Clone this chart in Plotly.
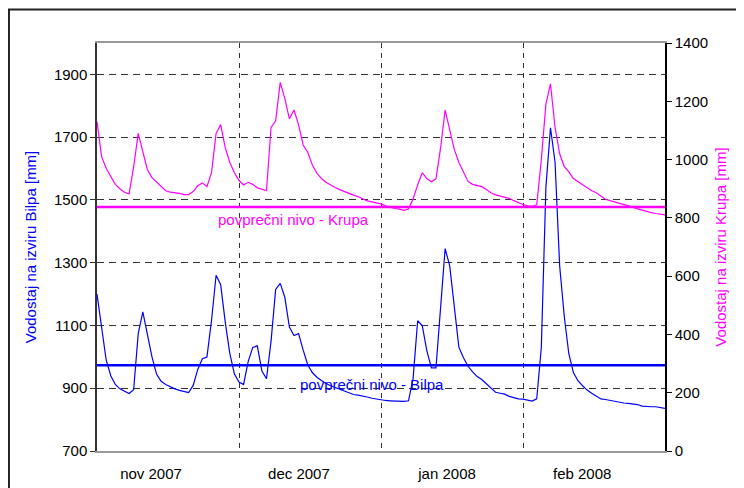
import pandas as pd
import plotly.graph_objects as go

# ---- data (daily, from 2007-10-31) ----
START_DATE = "2007-10-31"
END_DATE = "2008-03-03"

bilpa = [
    1200, 1098, 990, 940, 912, 898, 890, 883, 895, 1074,
    1143, 1070, 1000, 945, 922, 912, 904, 898, 893, 889,
    886, 909, 960, 994, 999, 1116, 1260, 1230, 1110, 1010,
    945, 920, 912, 985, 1030, 1035, 955, 930, 1050, 1215,
    1234, 1190, 1095, 1068, 1074, 1022, 975, 950, 935, 925,
    915, 908, 902, 898, 892, 884, 880, 878, 876, 872,
    868, 865, 863, 861, 860, 859, 858, 858, 860, 930,
    1115, 1100, 1020, 965, 965, 1160, 1345, 1290, 1150, 1031,
    997, 970, 952, 937, 928, 914, 900, 887, 884, 881,
    874, 869, 866, 865, 863, 859, 866, 1030, 1540, 1730,
    1620, 1290, 1130, 1010, 950, 924, 908, 894, 884, 874,
    866, 864, 861, 857, 855, 853, 852, 851, 848, 843,
    841, 841, 841, 838, 836,
]

krupa = [
    1130, 1010, 970, 940, 915, 900, 888, 882, 975, 1090,
    1030, 965, 938, 922, 908, 893, 888, 887, 884, 880,
    880, 890, 910, 920, 907, 955, 1090, 1120, 1040, 990,
    955, 928, 913, 922, 915, 903, 899, 894, 1110, 1133,
    1265, 1210, 1140, 1170, 1120, 1050, 1025, 982, 953, 935,
    922, 912, 904, 897, 890, 883, 878, 873, 866, 858,
    855, 851, 848, 841, 836, 832, 830, 826, 830, 865,
    913, 955, 935, 924, 934, 1039, 1170, 1100, 1035, 990,
    955, 925, 915, 911, 907, 897, 886, 879, 875, 871,
    867, 859, 852, 846, 841, 840, 845, 1000, 1190, 1260,
    1110, 1020, 976, 958, 935, 924, 913, 903, 893, 886,
    876, 864, 859, 855, 851, 847, 842, 837, 831, 826,
    822, 818, 815, 812, 810,
]

BILPA_MEAN = 973
KRUPA_MEAN = 837

month_tick_vals = ["2007-11-11T19:00", "2007-12-14T02:00", "2008-01-15T10:00", "2008-02-13T22:00"]
month_tick_text = ["nov 2007", "dec 2007", "jan 2008", "feb 2008"]
month_bounds = ["2007-12-01", "2008-01-01", "2008-02-01"]

dates = pd.date_range(START_DATE, periods=len(bilpa), freq="D")

BLUE = "#0000FF"
MAGENTA = "#FF00FF"
FONT = "Liberation Sans, Arial, sans-serif"

fig = go.Figure()

fig.add_trace(go.Scatter(x=[START_DATE, END_DATE], y=[BILPA_MEAN, BILPA_MEAN],
                         mode="lines", line=dict(color=BLUE, width=2.5),
                         yaxis="y", hoverinfo="skip"))
fig.add_trace(go.Scatter(x=[START_DATE, END_DATE], y=[KRUPA_MEAN, KRUPA_MEAN],
                         mode="lines", line=dict(color=MAGENTA, width=2.5),
                         yaxis="y2", hoverinfo="skip"))
fig.add_trace(go.Scatter(x=dates, y=bilpa, mode="lines",
                         line=dict(color=BLUE, width=1.2), yaxis="y",
                         name="Bilpa"))
fig.add_trace(go.Scatter(x=dates, y=krupa, mode="lines",
                         line=dict(color=MAGENTA, width=1.2), yaxis="y2",
                         name="Krupa"))

fig.add_annotation(x="2007-12-13T00:00", y=793, yref="y2", xref="x",
                   text="povprečni nivo - Krupa", showarrow=False,
                   font=dict(color=MAGENTA, size=15, family=FONT))
fig.add_annotation(x="2007-12-30T00:00", y=912, yref="y", xref="x",
                   text="povprečni nivo - Bilpa", showarrow=False,
                   font=dict(color=BLUE, size=15, family=FONT))

# outer frame
fig.add_shape(type="rect", xref="paper", yref="paper",
              x0=-0.155, x1=1.2, y0=-0.2, y1=1.082,
              line=dict(color="#222", width=2), layer="below")

fig.update_layout(
    width=736, height=480,
    margin=dict(l=89, r=79, t=35, b=37, autoexpand=False),
    paper_bgcolor="white", plot_bgcolor="white",
    showlegend=False,
    font=dict(family=FONT, size=15, color="black"),
    xaxis=dict(
        type="date", automargin=False,
        range=[START_DATE, END_DATE],
        tickmode="array", tickvals=month_tick_vals, ticktext=month_tick_text,
        ticks="", showgrid=False, ticklabelstandoff=8,
        showline=True, linecolor="#999", linewidth=1.5, mirror=True,
        zeroline=False,
        minor=dict(tickmode="array", tickvals=month_bounds, showgrid=True,
                   gridcolor="#333", griddash="5px,5px", gridwidth=1, ticks=""),
    ),
    yaxis=dict(
        automargin=False,
        range=[700, 2000], tick0=700, dtick=200, tickmode="linear",
        showgrid=True, gridcolor="#333", griddash="7px,5px", gridwidth=1,
        showline=True, linecolor="#333", linewidth=1.5,
        ticks="outside", ticklen=5, tickcolor="#333",
        zeroline=False,
        title=dict(text="Vodostaj na izviru Bilpa [mm]", font=dict(color=BLUE, size=15),
                   standoff=14),
    ),
    yaxis2=dict(
        automargin=False,
        range=[0, 1400], tick0=0, dtick=200, tickmode="linear",
        overlaying="y", side="right", showgrid=False,
        showline=True, linecolor="black", linewidth=1.5,
        ticks="outside", ticklen=5, tickcolor="black",
        zeroline=False,
        title=dict(text="Vodostaj na izviru Krupa [mm]", font=dict(color=MAGENTA, size=15),
                   standoff=8),
    ),
)

fig.write_html("out.html")
